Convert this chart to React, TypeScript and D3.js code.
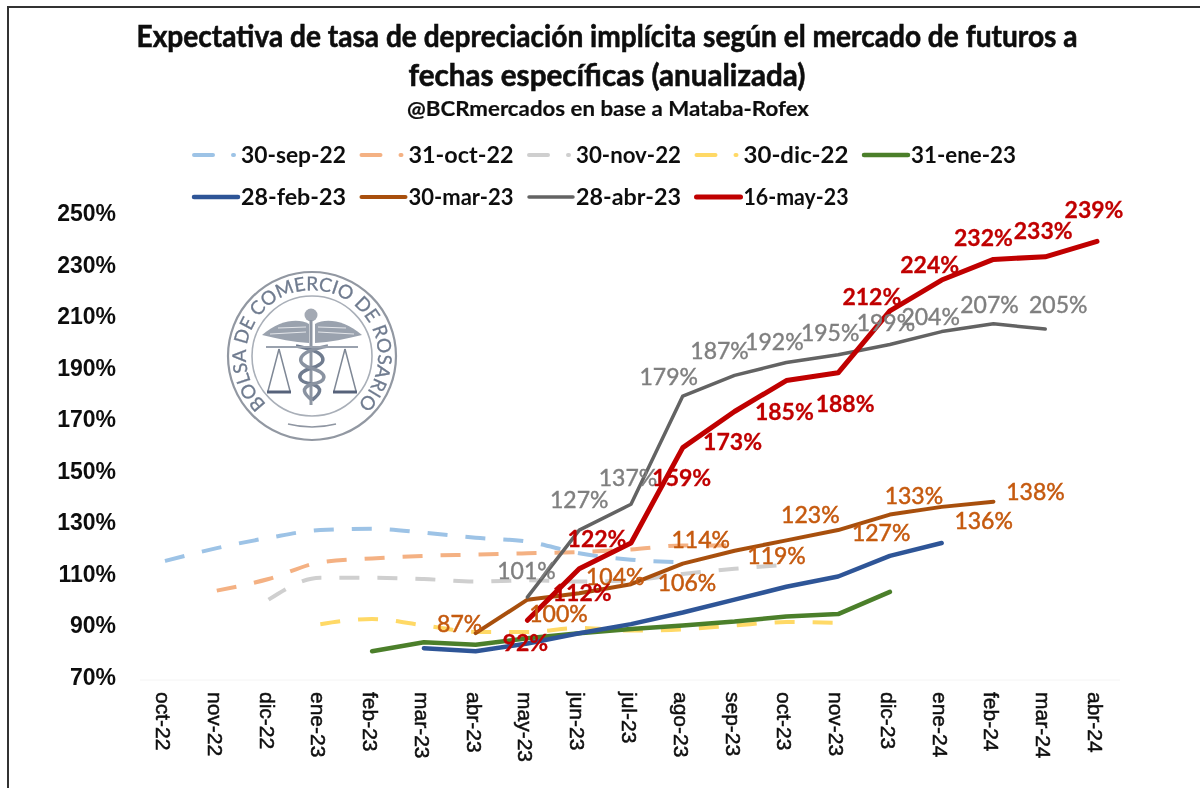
import React from 'react';
import { scalePoint, scaleLinear, line, curveMonotoneX, curveLinear } from 'd3';

const months = ['oct-22', 'nov-22', 'dic-22', 'ene-23', 'feb-23', 'mar-23', 'abr-23', 'may-23', 'jun-23', 'jul-23', 'ago-23', 'sep-23', 'oct-23', 'nov-23', 'dic-23', 'ene-24', 'feb-24', 'mar-24', 'abr-24'];
const yTicks = [70, 90, 110, 130, 150, 170, 190, 210, 230, 250];

// each array starts at the month given by its start index
const sep22 = [115, 120, 124, 127, 127.5, 126, 124, 122.5, 118, 115.5, 114.5];
const oct22 = [103.5, 108, 114.5, 116, 117, 117.5, 118, 118.5, 119.5, 121, 121];
const nov22 = [100, 108.5, 108.5, 108, 107, 107.5, 107, 107.5, 110, 112, 113.5];
const dic22 = [90.5, 92.5, 90, 87.5, 87.5, 89, 88, 88.5, 90, 91.3, 91];
const ene23 = [80, 83.5, 82.5, 85, 87, 88.6, 90, 91.5, 93.5, 94.4, 103];
const feb23 = [81.2, 80, 83, 87, 90.5, 95, 100, 105, 109, 117, 122];
const mar23 = [87, 100, 102.5, 106, 114, 119, 123, 127, 133, 136, 138];
const abr23 = [101, 127, 137, 179, 187, 192, 195, 199, 204, 207, 205];
const may23 = [92, 112, 122, 159, 173, 185, 188, 212, 224, 232, 233, 239];

const series = [
  { name: '30-sep-22', values: sep22, start: 0, color: '#9DC3E6', width: 4, dash: true },
  { name: '31-oct-22', values: oct22, start: 1, color: '#F4B183', width: 4, dash: true },
  { name: '30-nov-22', values: nov22, start: 2, color: '#CFCFCF', width: 4, dash: true },
  { name: '30-dic-22', values: dic22, start: 3, color: '#FFD966', width: 4, dash: true },
  { name: '31-ene-23', values: ene23, start: 4, color: '#4B7F2B', width: 4.5, dash: false },
  { name: '28-feb-23', values: feb23, start: 5, color: '#2F5597', width: 4.5, dash: false },
  { name: '30-mar-23', values: mar23, start: 6, color: '#A8500F', width: 4, dash: false },
  { name: '28-abr-23', values: abr23, start: 7, color: '#636363', width: 3.5, dash: false },
  { name: '16-may-23', values: may23, start: 7, color: '#C00000', width: 5, dash: false },
];

// labels were dragged by hand in the original, so every one has its own offset from its point
const labelOffsets: Record<string, [number, number][]> = {
  '30-mar-23': [[-16, -9], [31, 14], [36, -16], [56, -1], [18, -24], [42, 5], [24, -25], [43, 3], [24, -19], [42, 14], [42, -10]],
  '28-abr-23': [[-1, -26], [0, -30], [-3, -26], [-14, -19], [-15, -24], [-12, -21], [-8, -22], [-4, -21], [-11, -15], [-4, -19], [13, -24]],
  '16-may-23': [[-2, 23], [3, 24], [-34, -4], [-1, 30], [-2, 31], [-2, 31], [7, 31], [-18, -14], [-12, -15], [-10, -21], [-2, -26], [-3, -31]],
};
const labelStyle: Record<string, { color: string; weight: number; stroke: number }> = {
  '30-mar-23': { color: '#C55A11', weight: 400, stroke: 0.5 },
  '28-abr-23': { color: '#7F7F7F', weight: 400, stroke: 0.4 },
  '16-may-23': { color: '#C00000', weight: 700, stroke: 0.3 },
};
// for these the percentage printed is not quite where the line sits
const printedLabels: Record<string, number[]> = {
  '30-mar-23': [87, 100, 104, 106, 114, 119, 123, 127, 133, 136, 138],
};

const x = scalePoint<string>().domain(months).range([165, 1097]);
const y = scaleLinear().domain([70, 250]).range([677, 213]);

const font = 'Lato, "Noto Sans", sans-serif';
const arial = '"Liberation Sans", Arial, sans-serif';
const sealBlue = '#6F7B8F';

function Seal() {
  const cx = 312;
  const cy = 356;
  return (
    <g>
      <defs>
        <path id="sealText" d={`M ${cx - 30} ${cy + 59} A 66 66 0 1 1 ${cx + 30} ${cy + 59}`} />
      </defs>
      <circle cx={cx} cy={cy} r={84} fill="#fff" stroke="#9298A2" strokeWidth={2.2} />
      <circle cx={cx} cy={cy} r={60} fill="none" stroke="#A9AFB8" strokeWidth={1.6} />
      <text fontFamily={font} fontSize={19} fill={sealBlue} stroke={sealBlue} strokeWidth={0.3}>
        <textPath href="#sealText" startOffset="50%" textAnchor="middle">BOLSA DE COMERCIO DE ROSARIO</textPath>
      </text>
      {/* wings */}
      {[-1, 1].map((s) => (
        <g key={s}>
          <path d={`M ${cx + s * 50} ${cy - 21} C ${cx + s * 32} ${cy - 36} ${cx + s * 14} ${cy - 38} ${cx + s * 3} ${cy - 32} L ${cx + s * 3} ${cy - 13} C ${cx + s * 18} ${cy - 14} ${cx + s * 34} ${cy - 17} ${cx + s * 50} ${cy - 21} Z`} fill="#9AA2AE" />
          <path d={`M ${cx + s * 42} ${cy - 22} L ${cx + s * 6} ${cy - 24} M ${cx + s * 34} ${cy - 28} L ${cx + s * 6} ${cy - 29}`} stroke="#E4E6EA" strokeWidth={1} fill="none" />
        </g>
      ))}
      {/* staff and snakes */}
      <circle cx={cx - 1} cy={cy - 41} r={6.5} fill="#A3A9B3" />
      <line x1={cx - 1} x2={cx - 1} y1={cy - 36} y2={cy + 49} stroke="#8E96A3" strokeWidth={3} />
      <path d={`M ${cx - 16} ${cy - 10} C ${cx + 18} ${cy - 4} ${cx + 16} ${cy + 8} ${cx - 1} ${cy + 12} C ${cx - 18} ${cy + 18} ${cx - 14} ${cy + 26} ${cx} ${cy + 28} C ${cx + 12} ${cy + 32} ${cx + 8} ${cy + 38} ${cx} ${cy + 44}`} fill="none" stroke="#6F7B8F" strokeWidth={3.5} />
      <path d={`M ${cx + 16} ${cy - 10} C ${cx - 18} ${cy - 4} ${cx - 16} ${cy + 8} ${cx - 1} ${cy + 12} C ${cx + 18} ${cy + 18} ${cx + 14} ${cy + 26} ${cx} ${cy + 28} C ${cx - 12} ${cy + 32} ${cx - 8} ${cy + 38} ${cx} ${cy + 44}`} fill="none" stroke="#8A93A1" strokeWidth={3.5} />
      {/* scales */}
      <path d={`M ${cx - 46} ${cy - 9} L ${cx + 46} ${cy - 9}`} stroke="#9AA2AE" strokeWidth={2} />
      {[-1, 1].map((s) => (
        <g key={s}>
          <path d={`M ${cx + s * 33} ${cy - 7} L ${cx + s * 22} ${cy + 35} M ${cx + s * 33} ${cy - 7} L ${cx + s * 44} ${cy + 35}`} stroke="#7F8896" strokeWidth={1.5} fill="none" />
          <line x1={cx + s * 21} x2={cx + s * 45} y1={cy + 36} y2={cy + 36} stroke="#56627A" strokeWidth={3} />
        </g>
      ))}
      <path d={`M ${cx - 24} ${cy + 68} Q ${cx} ${cy + 74} ${cx + 24} ${cy + 68}`} fill="none" stroke="#8F96A2" strokeWidth={1.6} />
    </g>
  );
}

export default function App() {
  const lineFor = (dash: boolean) =>
    line<{ m: string; v: number }>()
      .x((d) => x(d.m) as number)
      .y((d) => y(d.v))
      .curve(dash ? curveMonotoneX : curveLinear);

  return (
    <svg width={1200} height={788} style={{ position: 'absolute', left: 0, top: 0, background: '#fff' }}>
      <defs>
        <filter id="soft" x="-5%" y="-5%" width="110%" height="110%">
          <feGaussianBlur stdDeviation="0.6" />
        </filter>
      </defs>
      <rect x={0} y={0} width={1200} height={788} fill="#fff" />
      <g filter="url(#soft)">
        <path d="M 8 788 L 8 7 L 1200 7" fill="none" stroke="#333" strokeWidth={2} />

        <g fontWeight={700} fill="#111" stroke="#111" textAnchor="middle" fontFamily={font}>
          <text x={607} y={47} fontSize={30} strokeWidth={0.6} textLength={941} lengthAdjust="spacingAndGlyphs">Expectativa de tasa de depreciación implícita según el mercado de futuros a</text>
          <text x={607} y={86} fontSize={30} strokeWidth={0.6} textLength={397} lengthAdjust="spacingAndGlyphs">fechas específicas (anualizada)</text>
          <text x={608} y={116} fontSize={21} strokeWidth={0.2} textLength={402} lengthAdjust="spacingAndGlyphs">@BCRmercados en base a Mataba-Rofex</text>
        </g>

        {series.map((s, i) => {
          const tx = 241 + (i % 5) * 167.5;
          const ty = i < 5 ? 155 : 197;
          return (
            <g key={s.name}>
              <line x1={tx - 47} x2={tx - 3} y1={ty} y2={ty} stroke={s.color} strokeWidth={s.width}
                strokeLinecap="round" strokeDasharray={s.dash ? '19 20 1 30' : undefined} />
              <text x={tx} y={ty + 8} fontFamily={font} fontWeight={700} fontSize={22} fill="#111" textLength={105} lengthAdjust="spacingAndGlyphs">{s.name}</text>
            </g>
          );
        })}

        <Seal />

        {yTicks.map((t) => (
          <text key={t} x={116} y={y(t) + 8} textAnchor="end" fontFamily={arial} fontWeight={700} fontSize={23} fill="#111">{t}%</text>
        ))}
        <line x1={140} x2={1120} y1={680} y2={680} stroke="#f4f4f4" />
        {months.map((m) => (
          <text key={m} transform={`translate(${(x(m) as number) - 9},692) rotate(90)`} fontFamily={arial} fontSize={21} fill="#111" stroke="#111" strokeWidth={0.5}>{m}</text>
        ))}

        {series.map((s) => {
          const pts = s.values.map((v, i) => ({ m: months[s.start + i], v }));
          return (
            <path key={s.name} d={lineFor(s.dash)(pts) as string} fill="none" stroke={s.color} strokeWidth={s.width}
              strokeLinecap={s.dash ? 'butt' : 'round'} strokeLinejoin="round" strokeDasharray={s.dash ? '20 18' : undefined} />
          );
        })}

        {series.filter((s) => labelOffsets[s.name]).map((s) =>
          s.values.map((v, i) => {
            const [dx, dy] = labelOffsets[s.name][i];
            const st = labelStyle[s.name];
            const printed = printedLabels[s.name] ? printedLabels[s.name][i] : v;
            return (
              <text key={s.name + i} x={(x(months[s.start + i]) as number) + dx} y={y(v) + dy + 8} textAnchor="middle"
                fontFamily={font} fontWeight={st.weight} fontSize={23} fill={st.color} stroke={st.color} strokeWidth={st.stroke}>{printed}%</text>
            );
          })
        )}
      </g>
    </svg>
  );
}
